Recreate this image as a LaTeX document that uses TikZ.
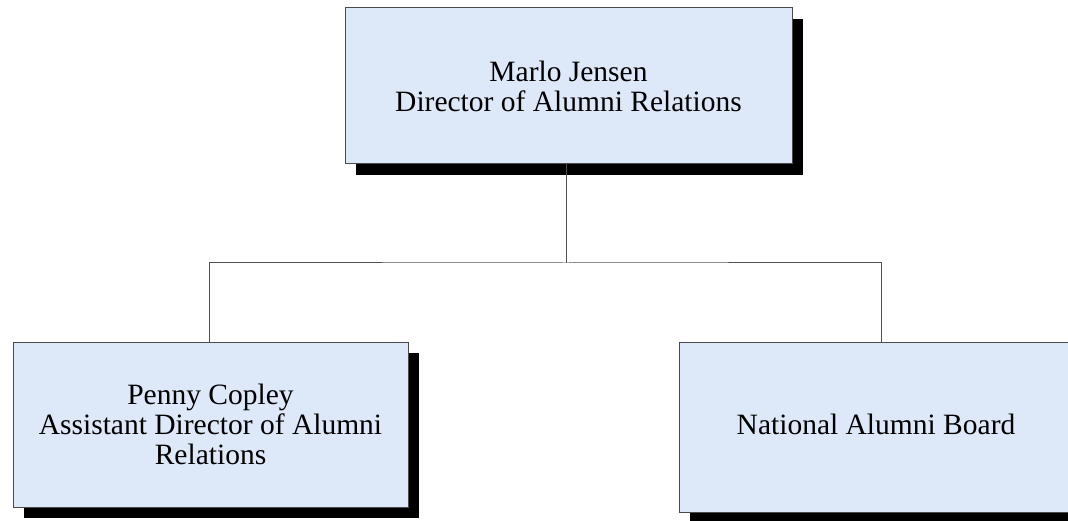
\documentclass[tikz,border=0pt]{standalone}
\usepackage{fontspec}
\setmainfont{Liberation Serif}
\usetikzlibrary{shadows}
\definecolor{boxfill}{HTML}{DDE8F9}
\definecolor{boxline}{HTML}{4A4A4A}
\definecolor{conn}{HTML}{505050}
\tikzset{
  orgbox/.style={draw=boxline, line width=1pt, fill=boxfill, rectangle,
    inner sep=0pt, align=center,
    font=\fontsize{29.5}{30}\selectfont,
    drop shadow={shadow xshift=11pt, shadow yshift=-11pt, fill=black, opacity=1}},
  link/.style={draw=conn, line width=1pt}
}
\begin{document}
\begin{tikzpicture}[x=1pt,y=1pt]
\useasboundingbox (0,0) rectangle (1068,520);
\clip (0,0) rectangle (1068,520);
\fill[white] (0,0) rectangle (1068,520);
\coordinate (bus) at (566,257);
\node[orgbox, minimum width=447pt, minimum height=156pt] (top) at (568.5,434)
  {Marlo Jensen\\Director of Alumni Relations};
\node[orgbox, minimum width=395pt, minimum height=165pt] (left) at (210.5,95.5)
  {Penny Copley\\Assistant Director of Alumni\\Relations};
\node[orgbox, minimum width=404pt, minimum height=170pt] (right) at (881,93)
  {\raisebox{5pt}{National Alumni Board}\hspace*{10pt}};
\draw[link] (566,0 |- top.south) -- (bus);
\draw[link] (209,0 |- left.north) |- (bus) -| (right.north);
\end{tikzpicture}
\end{document}
